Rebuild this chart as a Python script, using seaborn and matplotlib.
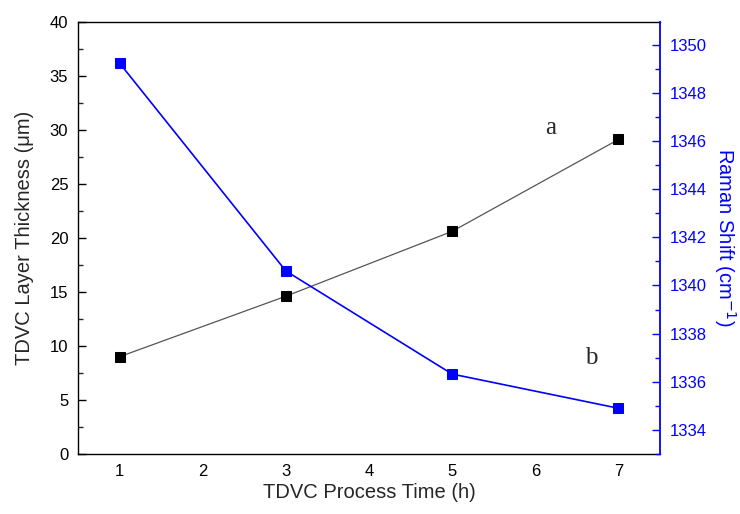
import matplotlib
matplotlib.use("Agg")
import matplotlib.pyplot as plt
from matplotlib.ticker import MultipleLocator
import seaborn as sns
import pandas as pd

# Process time (h) and measured values
process_time = [1, 3, 5, 7]
layer_thickness = [9.0, 14.6, 20.6, 29.1]        # µm
raman_shift = [1349.23, 1340.6, 1336.32, 1334.9]  # cm^-1

x_ticks = [1, 2, 3, 4, 5, 6, 7]
left_ticks = [0, 5, 10, 15, 20, 25, 30, 35, 40]
right_ticks = [1334, 1336, 1338, 1340, 1342, 1344, 1346, 1348, 1350]

sns.set_style("white")
plt.rcParams["font.family"] = ["Liberation Sans", "DejaVu Sans"]

df = pd.DataFrame({"time": process_time,
                   "thickness": layer_thickness,
                   "raman": raman_shift})

fig = plt.figure(figsize=(7.40, 5.14), dpi=100)
ax = fig.add_axes([0.1054, 0.1167, 0.7865, 0.8411])
ax2 = ax.twinx()

sns.lineplot(data=df, x="time", y="thickness", ax=ax, color="#555555",
             linewidth=0.9, marker="s", markersize=6.5,
             markerfacecolor="black", markeredgecolor="black")
sns.lineplot(data=df, x="time", y="raman", ax=ax2, color="#0000ff",
             linewidth=1.2, marker="s", markersize=6.5,
             markerfacecolor="#0000ff", markeredgecolor="#0000ff")

ax.set_xlim(0.5, 7.5)
ax.set_ylim(0, 40)
ax2.set_ylim(1333.0, 1350.95)

ax.set_xticks(x_ticks)
ax.set_yticks(left_ticks)
ax2.set_yticks(right_ticks)
ax.xaxis.set_minor_locator(MultipleLocator(0.5))
ax.yaxis.set_minor_locator(MultipleLocator(2.5))
ax2.yaxis.set_minor_locator(MultipleLocator(1))

tick_font = 12
ax.tick_params(axis="both", which="major", direction="in", length=6,
               width=1, pad=7, labelsize=tick_font, colors="black",
               top=False, right=False)
ax.tick_params(axis="both", which="minor", direction="in", length=3.5,
               width=1, top=False, right=False)
ax2.tick_params(axis="y", which="major", direction="in", length=6,
                width=1, pad=7, labelsize=tick_font, colors="#0000ff")
ax2.tick_params(axis="y", which="minor", direction="in", length=3.5,
                width=1, colors="#0000ff")

for s in ["left", "bottom", "top"]:
    ax.spines[s].set_visible(True)
    ax.spines[s].set_color("black")
    ax.spines[s].set_linewidth(1.0)
ax.spines["right"].set_visible(False)
for s in ["left", "bottom", "top"]:
    ax2.spines[s].set_visible(False)
ax2.spines["right"].set_visible(True)
ax2.spines["right"].set_color("#0000ff")
ax2.spines["right"].set_linewidth(1.3)

label_font = 14.5
ax.set_xlabel("TDVC Process Time (h)", fontsize=label_font, labelpad=3)
ax.set_ylabel("TDVC Layer Thickness (μm)", fontsize=label_font, labelpad=11)
ax2.set_ylabel("Raman Shift (cm$^{-1}$)", fontsize=label_font, color="#0000ff",
               rotation=270, labelpad=22)

ax.text(6.19, 30.2, "a", fontsize=18, family="Liberation Serif",
        ha="center", va="center")
ax.text(6.67, 8.9, "b", fontsize=18, family="Liberation Serif",
        ha="center", va="center")

fig.savefig("out.png", dpi=100)
